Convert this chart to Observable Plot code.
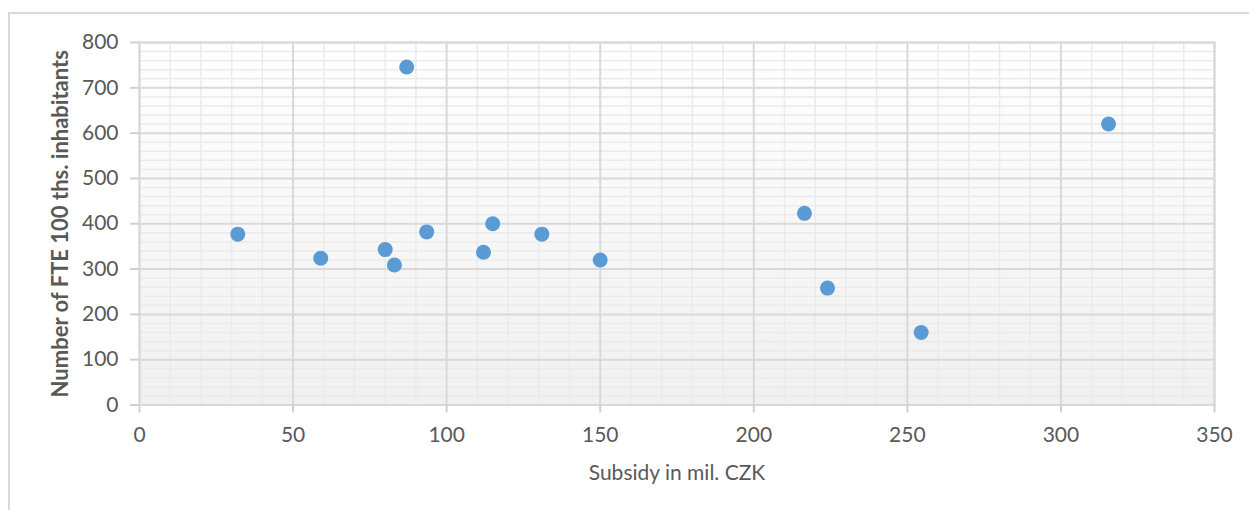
<!DOCTYPE html>
<html>
<head>
<meta charset="utf-8">
<script src="https://cdn.jsdelivr.net/npm/d3@7"></script>
<script src="https://cdn.jsdelivr.net/npm/@observablehq/plot@0.6"></script>
<style>
  html, body { margin: 0; padding: 0; background: #fff; overflow: hidden; }
  #wrap { position: relative; width: 1249px; height: 510px; }
  #frame { position: absolute; left: 8px; top: 12px; width: 1300px; height: 600px; border: 2px solid #d9d9d9; box-sizing: border-box; }
  #chart { position: absolute; left: 0; top: 0; }
</style>
</head>
<body>
<div id="wrap"><div id="frame"></div><div id="chart"></div></div>
<script>
// Data
const subsidy = [32, 59, 80, 83, 87, 93.5, 112, 115, 131, 150, 216.5, 224, 254.5, 315.5];
const fte     = [377, 324, 343, 309, 746, 382, 337, 400, 377, 320, 423, 258, 160, 620];
const xTicks = [0, 50, 100, 150, 200, 250, 300, 350];
const yTicks = [0, 100, 200, 300, 400, 500, 600, 700, 800];
const xMinor = d3.range(0, 351, 10).filter(v => v % 50 !== 0);
const yMinor = d3.range(0, 801, 20).filter(v => v % 100 !== 0);
const xTitle = "Subsidy in mil. CZK";
const yTitle = "Number of FTE 100 ths. inhabitants";

const points = subsidy.map((x, i) => ({x, y: fte[i]}));

const gradientDefs = () => {
  const ns = "http://www.w3.org/2000/svg";
  const g = document.createElementNS(ns, "g");
  g.innerHTML = `<defs><linearGradient id="bgGrad" x1="0" y1="0" x2="0" y2="1">
    <stop offset="0" stop-color="#ffffff"/><stop offset="1" stop-color="#f0f0f0"/></linearGradient></defs>`;
  return g;
};

const FONT = "Lato, 'Open Sans', sans-serif";

const chart = Plot.plot({
  width: 1249,
  height: 510,
  marginLeft: 139,
  marginRight: 35,
  marginTop: 42,
  marginBottom: 105.5,
  style: {fontFamily: FONT, fontSize: "21px", color: "#595959", background: "transparent", overflow: "visible"},
  x: {domain: [0, 350]},
  y: {domain: [0, 800]},
  marks: [
    gradientDefs,
    Plot.frame({fill: "url(#bgGrad)", stroke: null}),
    Plot.ruleX(xMinor, {stroke: "#ebebeb", strokeWidth: 1.5}),
    Plot.ruleY(yMinor, {stroke: "#ebebeb", strokeWidth: 1.5}),
    Plot.ruleX(xTicks, {stroke: "#d9d9d9", strokeWidth: 2}),
    Plot.ruleY(yTicks, {stroke: "#d9d9d9", strokeWidth: 2}),
    Plot.frame({stroke: "#d9d9d9", strokeWidth: 2}),
    Plot.axisX({ticks: xTicks, tickSize: 8, tickPadding: 14, stroke: "#d0d0d0", strokeWidth: 2, strokeOpacity: 1, fill: "#595959", label: null, fontSize: 21}),
    Plot.axisY({ticks: yTicks, tickSize: 9, tickPadding: 12, stroke: "#d0d0d0", strokeWidth: 2, strokeOpacity: 1, fill: "#595959", label: null, fontSize: 21}),
    Plot.dot(points, {x: "x", y: "y", r: 7.5, fill: "#5b9bd5", stroke: null}),
    Plot.text([xTitle], {frameAnchor: "bottom", dy: 75, fill: "#595959", fontSize: 21}),
    Plot.text([yTitle], {frameAnchor: "left", textAnchor: "middle", dx: -79, rotate: -90, fill: "#595959", fontSize: 22, fontWeight: "bold"})
  ]
});
document.getElementById("chart").appendChild(chart);
</script>
</body>
</html>
